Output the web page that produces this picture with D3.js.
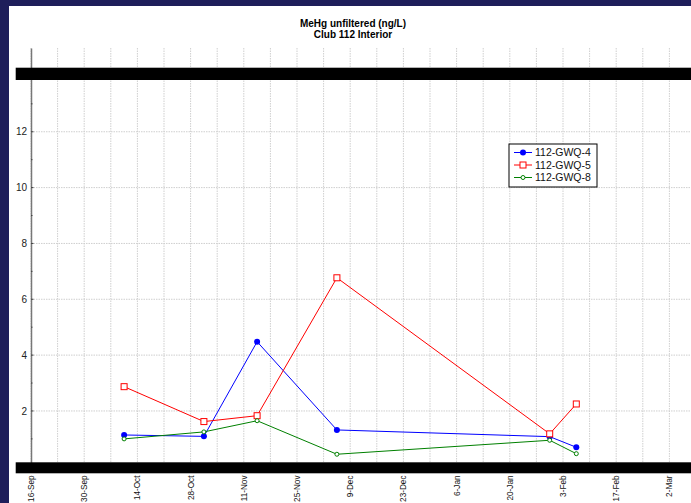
<!DOCTYPE html>
<html>
<head>
<meta charset="utf-8">
<script src="https://cdn.jsdelivr.net/npm/d3@7"></script>
<style>
  body { margin: 0; background: #1e1e5a; }
  svg { display: block; font-family: 'Liberation Sans', Arial, sans-serif; }
</style>
</head>
<body>
<div id="chart"></div>
<script>
// sample dates (shared by all three wells)
const sampleDates = ['2007-10-10T12:00', '2007-10-31T12:00', '2007-11-14T12:00',
                     '2007-12-05T12:00', '2008-01-30T12:00', '2008-02-06T12:00'];
const seriesNames = ['112-GWQ-4', '112-GWQ-5', '112-GWQ-8'];
const gwq4 = [1.14, 1.09, 4.48, 1.32, 1.08, 0.70];
const gwq5 = [2.87, 1.62, 1.83, 6.77, 1.18, 2.25];
const gwq8 = [1.00, 1.25, 1.65, 0.45, 0.95, 0.47];
const yTicks = [2, 4, 6, 8, 10, 12, 14];
const titleLines = ['MeHg unfiltered (ng/L)', 'Club 112 Interior'];

const width = 691;
const height = 503;
const parse = d3.isoParse;
const dates = sampleDates.map(parse);
const startDate = new Date(2007, 8, 16);
const endDate = new Date(2008, 2, 9);

const x = d3.scaleTime().domain([startDate, endDate]).range([31, 696]);
const y = d3.scaleLinear().domain([0, 15]).range([466.8, 48]);

const svg = d3.select('#chart').append('svg')
  .attr('width', width)
  .attr('height', height);

// navy frame + white page
svg.append('rect').attr('width', width).attr('height', height).attr('fill', '#1e1e5a');
svg.append('rect').attr('x', 9).attr('y', 6).attr('width', width - 9).attr('height', height - 6).attr('fill', '#fff');

// title
svg.selectAll('.title')
  .data(titleLines)
  .enter().append('text')
  .attr('x', 353)
  .attr('y', (d, i) => 27 + i * 10.5)
  .attr('text-anchor', 'middle')
  .style('font-size', '10px')
  .style('font-weight', 'bold')
  .text(d => d);

// grid
const weekDays = d3.timeDay.range(startDate, endDate, 7);
svg.append('g').selectAll('line')
  .data(weekDays)
  .enter().append('line')
  .attr('x1', d => x(d)).attr('x2', d => x(d))
  .attr('y1', y(15)).attr('y2', y(0))
  .attr('stroke', '#cfcfcf')
  .attr('stroke-dasharray', '1.5,1');

svg.append('g').selectAll('line')
  .data(yTicks)
  .enter().append('line')
  .attr('x1', x.range()[0]).attr('x2', width)
  .attr('y1', d => y(d)).attr('y2', d => y(d))
  .attr('stroke', '#cfcfcf')
  .attr('stroke-dasharray', '1.5,1');

// y axis
const yAxis = d3.axisLeft(y).tickValues(yTicks).tickSize(0).tickPadding(4);
const gy = svg.append('g')
  .attr('transform', `translate(${x.range()[0]},0)`)
  .call(yAxis);
gy.select('.domain').attr('stroke', '#777').attr('stroke-width', 1.5);
gy.selectAll('text').style('font-size', '10px').attr('fill', '#222');

// small inside ticks
svg.append('g').selectAll('line')
  .data(d3.range(1, 15))
  .enter().append('line')
  .attr('x1', x.range()[0]).attr('x2', d => x.range()[0] + (d % 2 ? 1.5 : 2.5))
  .attr('y1', d => y(d)).attr('y2', d => y(d))
  .attr('stroke', '#444');

// x tick labels (every 2 weeks)
const labelDays = d3.timeDay.range(startDate, endDate, 14);
const fmt = d3.timeFormat('%-d-%b');
svg.append('g').selectAll('text')
  .data(labelDays)
  .enter().append('text')
  .attr('transform', d => `translate(${x(d) + 3},475.5) rotate(-90)`)
  .attr('text-anchor', 'end')
  .style('font-size', '8.2px')
  .attr('fill', '#111')
  .text(d => fmt(d));

// series
const series = [
  { name: seriesNames[0], values: gwq4, color: '#0000ff', marker: 'dot' },
  { name: seriesNames[1], values: gwq5, color: '#ff0000', marker: 'square' },
  { name: seriesNames[2], values: gwq8, color: '#008000', marker: 'ring' }
];

const line = d3.line()
  .x(d => x(d.date))
  .y(d => y(d.value));

function drawMarker(g, type, color) {
  if (type === 'dot') {
    g.append('circle').attr('r', 3).attr('fill', color);
  } else if (type === 'square') {
    g.append('rect').attr('x', -3).attr('y', -3).attr('width', 6).attr('height', 6)
      .attr('fill', '#fff').attr('stroke', color).attr('stroke-width', 1);
  } else {
    g.append('circle').attr('r', 2).attr('fill', '#fff').attr('stroke', color).attr('stroke-width', 1);
  }
}

series.forEach(s => {
  const pts = s.values.map((v, i) => ({ date: dates[i], value: v }));
  svg.append('path')
    .datum(pts)
    .attr('d', line)
    .attr('fill', 'none')
    .attr('stroke', s.color)
    .attr('stroke-width', 1);
  pts.forEach(p => {
    const g = svg.append('g').attr('transform', `translate(${x(p.date)},${y(p.value)})`);
    drawMarker(g, s.marker, s.color);
  });
});

// black redaction bars
[67.7, 462.3].forEach(top => {
  svg.append('rect')
    .attr('x', 15.7).attr('y', top)
    .attr('width', width - 15.7).attr('height', top < 100 ? 12.3 : 11)
    .attr('fill', '#000');
});

// legend
const legend = svg.append('g').attr('transform', 'translate(509,144)');
legend.append('rect')
  .attr('width', 88).attr('height', 43)
  .attr('fill', '#fff').attr('stroke', '#000').attr('stroke-width', 1);
series.forEach((s, i) => {
  const row = legend.append('g').attr('transform', `translate(0,${8.5 + i * 12.5})`);
  row.append('line').attr('x1', 5).attr('x2', 23).attr('stroke', s.color);
  const m = row.append('g').attr('transform', 'translate(14,0)');
  drawMarker(m, s.marker, s.color);
  row.append('text')
    .attr('x', 26).attr('y', 3.8)
    .style('font-size', '10.5px')
    .attr('fill', '#111')
    .text(s.name);
});
</script>
</body>
</html>
